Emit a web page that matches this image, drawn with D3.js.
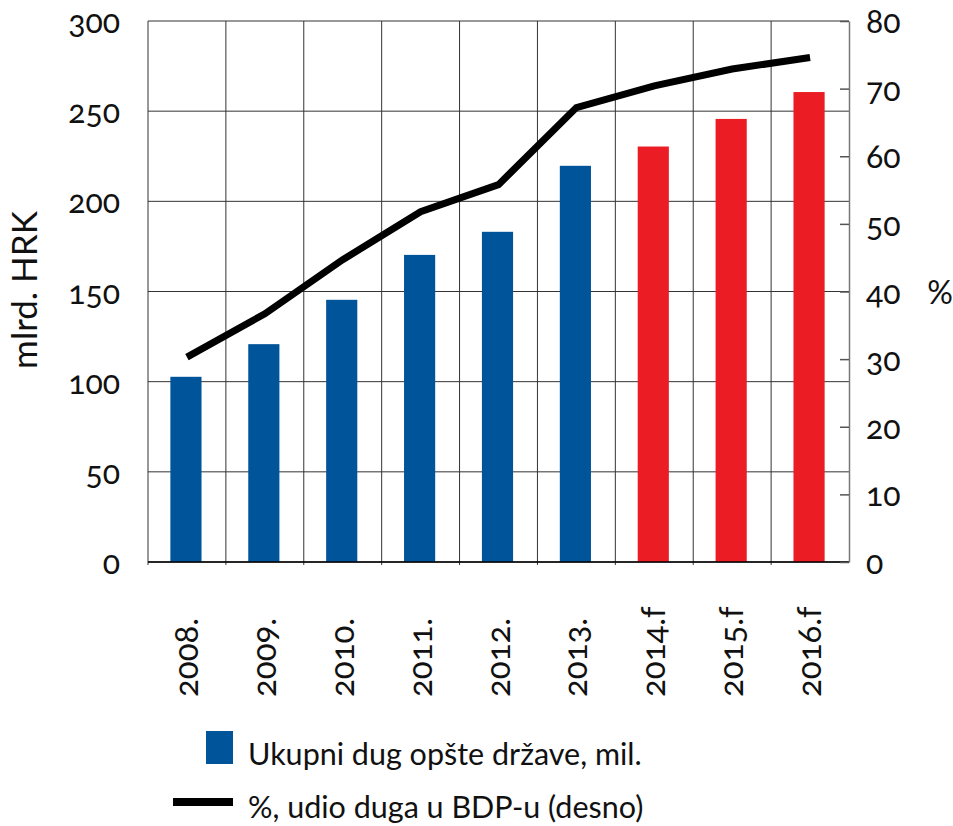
<!DOCTYPE html>
<html lang="hr">
<head>
  <meta charset="UTF-8">
  <script src="https://d3js.org/d3.v7.min.js"></script>
  <title>Ukupni dug opšte države</title>
  <style>
    body { margin: 0; background: #fff; }
    svg text { font-family: Lato, "Open Sans", sans-serif; font-variant-numeric: oldstyle-nums; fill: #111; }
  </style>
</head>
<body>
  <svg width="953" height="826"></svg>
  <script>
    // podaci
    const years = ["2008.", "2009.", "2010.", "2011.", "2012.", "2013.", "2014.f", "2015.f", "2016.f"];
    const debt = [102.7, 120.8, 145.4, 170.3, 183.1, 219.7, 230.4, 245.7, 260.6];
    const debtShare = [30.3, 36.7, 44.7, 51.8, 55.8, 67.2, 70.4, 72.9, 74.6];
    const forecast = [false, false, false, false, false, false, true, true, true];
    const leftTicks = [0, 50, 100, 150, 200, 250, 300];
    const rightTicks = [0, 10, 20, 30, 40, 50, 60, 70, 80];

    const blue = "#00559a", red = "#ec1c24";
    const svg = d3.select("svg");

    const pLeft = 148, pRight = 849, pTop = 21, pBottom = 562;

    const x = d3.scaleBand().domain(years).range([pLeft, pRight]).paddingInner(0).paddingOuter(0);
    const yL = d3.scaleLinear().domain([0, 300]).range([pBottom, pTop]);
    const yR = d3.scaleLinear().domain([0, 80]).range([pBottom, pTop]);

    // mreža
    svg.append("g").selectAll("line").data(leftTicks).join("line")
      .attr("x1", pLeft).attr("x2", pRight)
      .attr("y1", d => yL(d)).attr("y2", d => yL(d))
      .attr("stroke", "#333").attr("stroke-width", 1);
    svg.append("g").selectAll("line").data(years).join("line")
      .attr("x1", d => x(d)).attr("x2", d => x(d))
      .attr("y1", pTop).attr("y2", pBottom + 3)
      .attr("stroke", "#333").attr("stroke-width", 1);

    // stupci
    const bw = x.bandwidth() * 0.4;
    svg.append("g").selectAll("rect").data(years).join("rect")
      .attr("x", d => x(d) + x.bandwidth() / 2 - bw / 2 - 1)
      .attr("width", bw)
      .attr("y", (d, i) => yL(debt[i]))
      .attr("height", (d, i) => yL(0) - yL(debt[i]))
      .attr("fill", (d, i) => forecast[i] ? red : blue);

    // x os
    svg.append("line")
      .attr("x1", pLeft).attr("x2", pRight)
      .attr("y1", pBottom).attr("y2", pBottom)
      .attr("stroke", "#000").attr("stroke-width", 1.5);

    // lijeva os
    const axL = svg.append("g").attr("transform", `translate(${pLeft},0)`)
      .call(d3.axisLeft(yL).tickValues(leftTicks).tickSize(0).tickPadding(28));
    axL.select(".domain").remove();
    axL.selectAll("text").style("font-size", "32px").attr("dy", "0.36em");

    // desna os
    const axR = svg.append("g").attr("transform", `translate(${pRight},0)`)
      .call(d3.axisRight(yR).tickValues(rightTicks).tickSizeInner(-9).tickSizeOuter(0).tickPadding(17));
    axR.select(".domain").attr("stroke", "#777").attr("stroke-width", 1.5);
    axR.selectAll(".tick line").attr("stroke", "#555").attr("stroke-width", 1.5);
    axR.selectAll("text").style("font-size", "32px").attr("dy", "0.36em");

    // oznake godina
    svg.append("g").selectAll("text").data(years).join("text")
      .attr("transform", d => `translate(${x(d) + x.bandwidth() / 2 + 11},697) rotate(-90)`)
      .attr("text-anchor", "start")
      .style("font-size", "33px")
      .text(d => d);

    // linija
    const line = d3.line()
      .x((d, i) => x(years[i]) + x.bandwidth() / 2)
      .y(d => yR(d));
    svg.append("path")
      .attr("d", line(debtShare))
      .attr("fill", "none")
      .attr("stroke", "#000")
      .attr("stroke-width", 7);

    // naslovi osi
    svg.append("text")
      .attr("transform", "translate(37,290) rotate(-90)")
      .attr("text-anchor", "middle")
      .style("font-size", "35px")
      .text("mlrd. HRK");
    svg.append("text")
      .attr("x", 940).attr("y", 304)
      .attr("text-anchor", "middle")
      .style("font-size", "32px")
      .text("%");

    // legenda
    svg.append("rect").attr("x", 206).attr("y", 731).attr("width", 27).attr("height", 33).attr("fill", blue);
    svg.append("text").attr("x", 248).attr("y", 765).style("font-size", "30.5px")
      .text("Ukupni dug opšte države, mil.");
    svg.append("line").attr("x1", 173).attr("x2", 233).attr("y1", 802).attr("y2", 802)
      .attr("stroke", "#000").attr("stroke-width", 8);
    svg.append("text").attr("x", 248).attr("y", 818).style("font-size", "30.5px")
      .text("%, udio duga u BDP-u (desno)");
  </script>
</body>
</html>
